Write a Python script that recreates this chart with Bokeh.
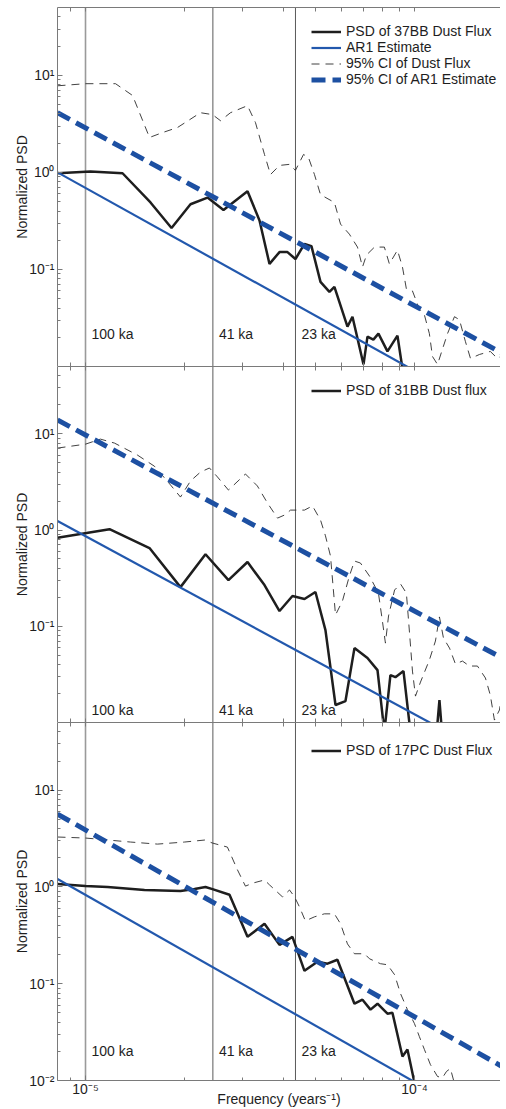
from bokeh.plotting import figure
from bokeh.models import (FixedTicker, CustomJSTickFormatter, LogAxis, Span, Label,
                          Legend, LegendItem, Range1d)
from bokeh.layouts import column
from bokeh.embed import file_html
from bokeh.resources import INLINE

# ---------------- data ----------------
# Panel 1: 37BB
f_37bb = [8.22e-6, 1.035e-5, 1.296e-5, 1.576e-5, 1.826e-5, 2.085e-5, 2.349e-5, 2.627e-5,
          3.108e-5, 3.38e-5, 3.625e-5, 3.888e-5, 4.111e-5, 4.347e-5, 4.63e-5, 4.862e-5,
          5.18e-5, 5.514e-5, 5.71e-5, 6.256e-5, 6.479e-5, 7.0e-5, 7.196e-5, 7.5e-5,
          7.77e-5, 8.277e-5, 8.877e-5, 9.193e-5, 9.6e-5]
psd_37bb = [0.98, 1.02, 0.98, 0.49, 0.267, 0.47, 0.55, 0.41, 0.64, 0.32, 0.114, 0.151,
            0.151, 0.128, 0.183, 0.174, 0.0744, 0.0588, 0.0662, 0.0257, 0.0326, 0.0105,
            0.0203, 0.0189, 0.0218, 0.0143, 0.0208, 0.0095, 0.004]
ci_f_37bb = [8.22e-6, 1.0e-5, 1.234e-5, 1.39e-5, 1.565e-5, 1.714e-5, 1.904e-5, 2.236e-5,
             2.432e-5, 2.572e-5, 2.759e-5, 3.108e-5, 3.286e-5, 3.5e-5, 3.65e-5, 3.888e-5,
             4.17e-5, 4.347e-5, 4.6e-5, 4.76e-5, 4.966e-5, 5.18e-5, 5.71e-5, 5.96e-5,
             6.34e-5, 6.71e-5, 6.95e-5, 7.15e-5, 7.56e-5, 8.1e-5, 8.39e-5, 8.877e-5,
             9.193e-5, 9.45e-5, 9.86e-5, 1.035e-4, 1.072e-4, 1.11e-4, 1.134e-4, 1.175e-4,
             1.26e-4, 1.323e-4, 1.37e-4, 1.429e-4, 1.48e-4, 1.576e-4, 1.70e-4, 1.788e-4,
             1.864e-4]
ci_37bb = [7.8, 8.2, 8.2, 6.2, 2.29, 2.57, 2.9, 4.12, 3.94, 3.41, 4.12, 4.87, 3.26, 1.53,
           0.95, 1.18, 1.21, 1.05, 1.53, 1.43, 0.95, 0.59, 0.49, 0.293, 0.231, 0.17, 0.106,
           0.141, 0.17, 0.17, 0.114, 0.158, 0.106, 0.063, 0.06, 0.039, 0.034, 0.0218,
           0.0127, 0.0105, 0.0218, 0.0326, 0.0303, 0.018, 0.0121, 0.0133, 0.0143, 0.0121,
           0.0133]
ar1_f = [8.22e-6, 1.864e-4]
ar1_37bb = [1.0, 0.0028]
ar1ci_37bb = [4.12, 0.0135]

# Panel 2: 31BB
f_31bb = [8.22e-6, 1.007e-5, 1.183e-5, 1.565e-5, 1.944e-5, 2.316e-5, 2.72e-5, 3.108e-5,
          3.5e-5, 3.888e-5, 4.257e-5, 4.63e-5, 5.0e-5, 5.363e-5, 5.754e-5, 6.17e-5,
          6.57e-5, 7.196e-5, 7.72e-5, 8.1e-5, 8.45e-5, 8.75e-5, 9.26e-5, 9.72e-5,
          1.16e-4, 1.191e-4, 1.22e-4, 1.864e-4]
psd_31bb = [0.83, 0.93, 1.02, 0.65, 0.255, 0.56, 0.302, 0.465, 0.268, 0.144, 0.206, 0.192,
            0.227, 0.0912, 0.0152, 0.0167, 0.0593, 0.0468, 0.035, 0.008, 0.0311, 0.0296,
            0.0342, 0.008, 0.006, 0.0171, 0.006, 0.004]
ci_f_31bb = [8.22e-6, 1.0e-5, 1.11e-5, 1.225e-5, 1.439e-5, 1.62e-5, 1.813e-5, 1.944e-5,
             2.085e-5, 2.236e-5, 2.381e-5, 2.518e-5, 2.72e-5, 3.063e-5, 3.33e-5, 3.573e-5,
             3.834e-5, 4.026e-5, 4.2e-5, 4.63e-5, 4.897e-5, 5.18e-5, 5.363e-5, 5.555e-5,
             5.754e-5, 6.04e-5, 6.34e-5, 6.57e-5, 6.85e-5, 7.3e-5, 7.77e-5, 7.99e-5,
             8.16e-5, 8.34e-5, 8.7e-5, 9.07e-5, 9.45e-5, 9.66e-5, 9.86e-5, 1.007e-4,
             1.043e-4, 1.11e-4, 1.158e-4, 1.191e-4, 1.225e-4, 1.278e-4, 1.332e-4, 1.399e-4,
             1.469e-4, 1.554e-4, 1.643e-4, 1.70e-4, 1.75e-4, 1.813e-4, 1.864e-4]
ci_31bb = [7.1, 7.8, 8.8, 8.0, 6.0, 4.6, 2.94, 2.2, 3.23, 4.0, 4.41, 3.56, 2.6, 3.82, 2.87,
           1.91, 1.33, 1.43, 1.61, 1.61, 1.78, 1.27, 0.87, 0.537, 0.131, 0.183, 0.332,
           0.476, 0.454, 0.332, 0.221, 0.113, 0.0668, 0.128, 0.238, 0.275, 0.221, 0.085,
           0.0342, 0.0188, 0.0263, 0.0446, 0.0702, 0.125, 0.0754, 0.0593, 0.0405, 0.0435,
           0.0386, 0.0386, 0.029, 0.0193, 0.0106, 0.0135, 0.0257]
ar1_31bb = [1.24, 0.00385]
ar1ci_31bb = [13.9, 0.046]

# Panel 3: 17PC
f_17pc = [8.22e-6, 1.0e-5, 1.167e-5, 1.511e-5, 1.944e-5, 2.145e-5, 2.316e-5, 2.432e-5,
          2.74e-5, 3.108e-5, 3.5e-5, 3.888e-5, 4.257e-5, 4.63e-5, 5.07e-5, 5.44e-5,
          5.83e-5, 6.57e-5, 6.95e-5, 7.35e-5, 7.72e-5, 8.277e-5, 8.57e-5, 9.193e-5,
          9.52e-5, 1.007e-4, 1.1e-4]
psd_17pc = [1.07, 1.02, 1.0, 0.93, 0.91, 0.95, 1.0, 0.95, 0.83, 0.305, 0.416, 0.252,
            0.305, 0.136, 0.169, 0.161, 0.177, 0.0622, 0.0684, 0.054, 0.0622, 0.049,
            0.0502, 0.0177, 0.0209, 0.0085, 0.004]
ci_f_17pc = [8.22e-6, 1.0e-5, 1.088e-5, 1.37e-5, 1.655e-5, 2.0e-5, 2.3e-5, 2.432e-5,
             2.70e-5, 2.897e-5, 3.063e-5, 3.24e-5, 3.5e-5, 3.625e-5, 3.97e-5, 4.17e-5,
             4.32e-5, 4.47e-5, 4.66e-5, 4.966e-5, 5.32e-5, 5.71e-5, 5.96e-5, 6.256e-5,
             6.57e-5, 7.047e-5, 7.3e-5, 7.88e-5, 8.277e-5, 8.7e-5, 9.07e-5, 9.52e-5,
             1.0e-4, 1.035e-4, 1.072e-4, 1.118e-4, 1.175e-4, 1.217e-4, 1.251e-4,
             1.286e-4, 1.323e-4, 1.40e-4, 1.864e-4]
ci_17pc = [3.28, 3.2, 3.12, 2.91, 2.77, 2.91, 3.05, 2.84, 2.58, 1.5, 1.02, 1.1, 1.18, 1.05,
           0.789, 0.93, 0.789, 0.622, 0.446, 0.491, 0.527, 0.527, 0.416, 0.258, 0.204,
           0.204, 0.181, 0.161, 0.157, 0.124, 0.0789, 0.054, 0.0387, 0.0284, 0.0209,
           0.0146, 0.011, 0.0107, 0.0124, 0.0133, 0.0093, 0.006, 0.005]
ar1_17pc = [1.21, 0.0029]
ar1ci_17pc = [5.66, 0.0137]

# orbital periods (years) and their labels
period_freqs = [1e-5, 1 / 41000, 1 / 23000]
period_labels = ["100 ka", "41 ka", "23 ka"]

x_major = [1e-5, 1e-4]
y_major_upper = [1e-1, 1e0, 1e1]
y_major_lower = [1e-2, 1e-1, 1e0, 1e1]

# ---------------- styling ----------------
FONT = "Liberation Sans"
TXT = "#1e1e1e"
AXC = "#7a7a7a"
BLACK = "#1e1e1e"
BLUE = "#2258ad"
BLUE_D = "#1d50a2"
X_RANGE = (8.22e-6, 1.826e-4)
Y_RANGE = (1e-2, 50.0)

x_minor = [8e-6, 9e-6] + [k * 1e-5 for k in range(2, 10)]
y_minor = [k * 10.0 ** e for e in (-2, -1, 0, 1) for k in range(2, 10) if k * 10.0 ** e < 50]

SUP_JS = """
const s = {'-':'\u207b','0':'\u2070','1':'\u00b9','2':'\u00b2','3':'\u00b3','4':'\u2074',
           '5':'\u2075','6':'\u2076','7':'\u2077','8':'\u2078','9':'\u2079'};
const e = Math.round(Math.log10(tick));
return '10' + String(e).split('').map(c => s[c]).join('');
"""


def style_axis(ax, ticks, minor, labels):
    ax.axis_line_color = AXC
    ax.major_tick_line_color = AXC
    ax.minor_tick_line_color = AXC
    ax.major_tick_out = 0
    ax.minor_tick_out = 0
    if labels:
        ax.ticker = FixedTicker(ticks=ticks, minor_ticks=minor)
        ax.formatter = CustomJSTickFormatter(code=SUP_JS)
        ax.major_tick_in = 5
        ax.minor_tick_in = 3
        ax.major_label_text_font = FONT
        ax.major_label_text_font_size = "14px"
        ax.major_label_text_color = TXT
    else:
        # tick marks only, no labels at all
        ax.ticker = FixedTicker(ticks=[], minor_ticks=sorted(ticks + minor))
        ax.major_tick_in = 0
        ax.minor_tick_in = 4
        ax.major_label_standoff = 0


def make_panel(f, psd, ci_f, ci, ar1, ar1ci, legend_name, frame_h, top, bottom,
               y_ticks, ka_y, legend_y, full_legend):
    p = figure(x_axis_type="log", y_axis_type="log",
               x_range=Range1d(*X_RANGE), y_range=Range1d(*Y_RANGE),
               frame_width=443, frame_height=frame_h,
               min_border_left=57, min_border_right=0,
               min_border_top=top, min_border_bottom=bottom,
               output_backend="svg", toolbar_location=None)
    p.xgrid.visible = False
    p.ygrid.visible = False
    p.outline_line_color = None
    p.background_fill_color = "white"
    p.border_fill_color = "white"

    style_axis(p.xaxis[0], x_major, x_minor, bottom > 0)
    if bottom > 0:
        xa = p.xaxis[0]
        xa.major_label_standoff = 0
        xa.axis_label = "Frequency (years\u207b\u00b9)"
        xa.axis_label_text_font = FONT
        xa.axis_label_text_font_size = "14px"
        xa.axis_label_text_font_style = "normal"
        xa.axis_label_text_color = TXT
        xa.axis_label_standoff = -9
    top_ax = LogAxis()
    style_axis(top_ax, x_major, x_minor, False)
    p.add_layout(top_ax, "above")

    ya = p.yaxis[0]
    style_axis(ya, y_ticks, y_minor, True)
    ya.major_label_standoff = 3
    ya.axis_label = "Normalized PSD"
    ya.axis_label_text_font = FONT
    ya.axis_label_text_font_size = "14px"
    ya.axis_label_text_font_style = "normal"
    ya.axis_label_text_color = TXT
    ya.axis_label_standoff = -4

    for i, (fr, lab) in enumerate(zip(period_freqs, period_labels)):
        p.add_layout(Span(location=fr, dimension="height",
                          line_color="#9a9a9a" if i == 0 else "#5a5a5a",
                          line_width=1.6 if i == 0 else 1.0, level="underlay"))
        p.add_layout(Label(x=fr, y=ka_y, x_units="data", y_units="screen", x_offset=6,
                           text=lab, text_font=FONT, text_font_size="14px",
                           text_color=TXT, text_baseline="middle"))

    r_psd = p.line(f, psd, line_color=BLACK, line_width=2.5)
    r_ar1 = p.line(ar1_f, ar1, line_color=BLUE, line_width=2.2)
    r_ci = p.line(ci_f, ci, line_color="#2b2b2b", line_width=0.9, line_dash="8 6")
    r_ar1ci = p.line(ar1_f, ar1ci, line_color=BLUE_D, line_width=5, line_dash="14 7")

    items = [LegendItem(label=legend_name, renderers=[r_psd])]
    if full_legend:
        items += [LegendItem(label="AR1 Estimate", renderers=[r_ar1]),
                  LegendItem(label="95% CI of Dust Flux", renderers=[r_ci]),
                  LegendItem(label="95% CI of AR1 Estimate", renderers=[r_ar1ci])]
    leg = Legend(items=items, location=(254, legend_y), padding=0, margin=0,
                 spacing=0, glyph_width=30, glyph_height=15, label_height=15,
                 label_standoff=5, border_line_alpha=0, background_fill_alpha=0,
                 label_text_font=FONT, label_text_font_size="14px",
                 label_text_color=TXT)
    p.add_layout(leg, "center")
    return p


p1 = make_panel(f_37bb, psd_37bb, ci_f_37bb, ci_37bb, ar1_37bb, ar1ci_37bb,
                "PSD of 37BB Dust Flux", 359, 7, 0, y_major_upper, 33, 279, True)
p2 = make_panel(f_31bb, psd_31bb, ci_f_31bb, ci_31bb, ar1_31bb, ar1ci_31bb,
                "PSD of 31BB Dust flux", 356, 0, 0, y_major_upper, 13, 324, False)
p3 = make_panel(f_17pc, psd_17pc, ci_f_17pc, ci_17pc, ar1_17pc, ar1ci_17pc,
                "PSD of 17PC Dust Flux", 358, 0, 22, y_major_lower, 30, 322, False)

layout = column(p1, p2, p3, spacing=0)
open("out.html", "w").write(file_html(layout, INLINE))
